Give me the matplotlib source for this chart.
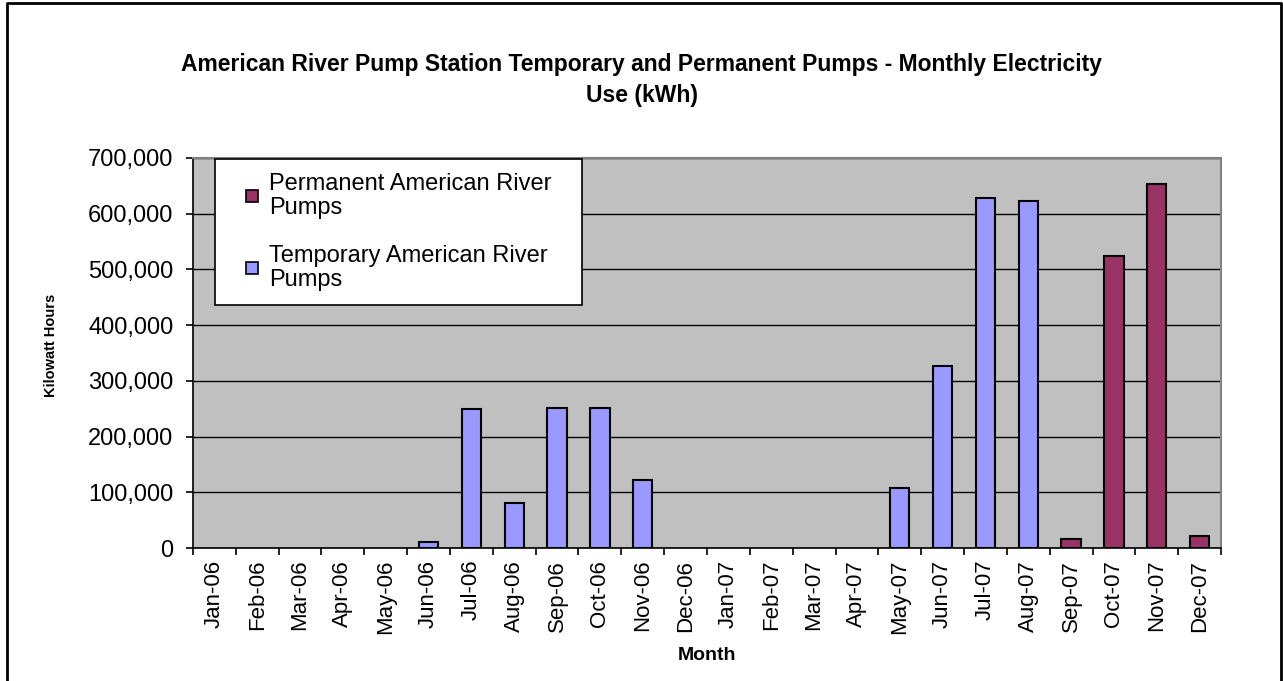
import numpy as np
import matplotlib.pyplot as plt
from matplotlib.ticker import FuncFormatter, FixedLocator
from matplotlib.lines import Line2D

plt.rcParams['font.family'] = ['Liberation Sans', 'DejaVu Sans']

# data (kWh)
months = ['Jan-06', 'Feb-06', 'Mar-06', 'Apr-06', 'May-06', 'Jun-06', 'Jul-06', 'Aug-06',
          'Sep-06', 'Oct-06', 'Nov-06', 'Dec-06', 'Jan-07', 'Feb-07', 'Mar-07', 'Apr-07',
          'May-07', 'Jun-07', 'Jul-07', 'Aug-07', 'Sep-07', 'Oct-07', 'Nov-07', 'Dec-07']
temporary = [0, 0, 0, 0, 0, 10800, 249000, 80800, 252000, 252000, 122000, 0,
             0, 0, 0, 0, 107000, 326000, 629000, 623000, 0, 0, 0, 0]
permanent = [0, 0, 0, 0, 0, 0, 0, 0, 0, 0, 0, 0,
             0, 0, 0, 0, 0, 0, 0, 0, 15600, 523500, 654000, 21500]
yticks = [0, 100000, 200000, 300000, 400000, 500000, 600000, 700000]

temp_color = '#9999FF'
perm_color = '#993366'

fig = plt.figure(figsize=(12.83, 6.81), dpi=100)
ax = fig.add_axes([0.1504, 0.1953, 0.8013, 0.5727])
ax.set_facecolor('#C0C0C0')

x = np.arange(len(months))
w = 0.45
t = np.array(temporary)
p = np.array(permanent)
# skip empty months, Excel draws nothing there
mt = t > 0
mp = p > 0
ax.bar(x[mt], t[mt], width=w, color=temp_color, edgecolor='black', linewidth=1.5, zorder=3)
ax.bar(x[mp], p[mp], width=w, bottom=t[mp], color=perm_color, edgecolor='black',
       linewidth=1.5, zorder=3)

ax.set_xlim(-0.5, len(months) - 0.5)
ax.set_ylim(0, 700000)
ax.set_yticks(yticks)
ax.yaxis.set_major_formatter(FuncFormatter(lambda v, pos: f'{int(v):,}'))
ax.yaxis.grid(True, color='black', linewidth=1.0, zorder=1)
ax.set_axisbelow(True)

ax.set_xticks(x)
ax.set_xticklabels(months, rotation=90)
ax.xaxis.set_minor_locator(FixedLocator(np.arange(-0.5, len(months), 1.0)))
ax.tick_params(axis='x', which='major', length=0, pad=8.5, labelsize=16)
ax.tick_params(axis='x', which='minor', length=5, width=1.2, direction='out')
ax.tick_params(axis='y', length=5, width=1.2, labelsize=17, pad=9)

for s in ['top', 'right']:
    ax.spines[s].set_color('#808080')
    ax.spines[s].set_linewidth(1.5)
for s in ['left', 'bottom']:
    ax.spines[s].set_color('black')
    ax.spines[s].set_linewidth(1.2)

ax.set_ylabel('Kilowatt Hours', fontsize=10.5, fontweight='bold')
ax.yaxis.set_label_coords(-0.131, 0.52)
ax.set_xlabel('Month', fontsize=14, fontweight='bold', va='top')
ax.xaxis.set_label_coords(0.5, -0.253)

fig.suptitle('American River Pump Station Temporary and Permanent Pumps - Monthly Electricity\nUse (kWh)',
             fontsize=16.5, fontweight='bold', y=0.922, linespacing=1.45)

handles = [Line2D([], [], linestyle='none', marker='s', markersize=9,
                  markerfacecolor=perm_color, markeredgecolor='black', markeredgewidth=1.2),
           Line2D([], [], linestyle='none', marker='s', markersize=9,
                  markerfacecolor=temp_color, markeredgecolor='black', markeredgewidth=1.2)]
labels = ['Permanent American River\nPumps', 'Temporary American River\nPumps']
leg = ax.legend(handles, labels, loc='upper left', bbox_to_anchor=(0.1676, 0.7665, 0.286, 0.0),
                bbox_transform=fig.transFigure, mode='expand', fontsize=17, frameon=True,
                fancybox=False, edgecolor='black', framealpha=1, borderaxespad=0,
                handlelength=1.9, handletextpad=-0.2, labelspacing=1.1, borderpad=0.6)
leg.get_frame().set_linewidth(1.2)
for txt in leg.get_texts():
    txt.set_linespacing(1.1)

# outer chart border (left, top, right only; bottom is cut off in the original)
bx0, bx1, by1 = 7 / 1283, 1281 / 1283, 1 - 3 / 681
fig.add_artist(Line2D([bx0, bx0, bx1, bx1], [0, by1, by1, 0], transform=fig.transFigure,
                      color='black', linewidth=2))

fig.savefig('out.png', dpi=100)
